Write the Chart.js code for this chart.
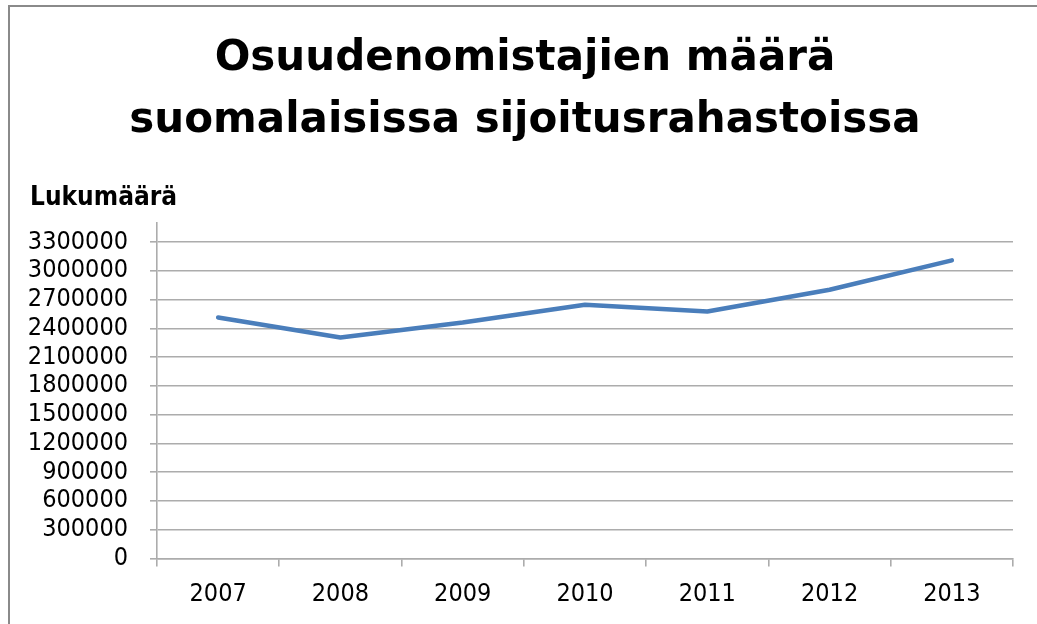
<!DOCTYPE html>
<html>
<head>
<meta charset="utf-8">
<script src="https://cdn.jsdelivr.net/npm/chart.js@4.4.1/dist/chart.umd.min.js"></script>
<style>
  html, body { margin: 0; padding: 0; background: #ffffff; overflow: hidden; width: 1037px; height: 624px; }
  #frame { position: absolute; left: 8px; top: 5px; width: 1040px; height: 640px;
           border-left: 2px solid #8a8a8a; border-top: 2px solid #8a8a8a; background: #fff; }
  #c { display: block; }
</style>
</head>
<body>
<div id="frame"><canvas id="c" width="1030" height="618"></canvas></div>
<script>
const titleLines = ['Osuudenomistajien määrä', 'suomalaisissa sijoitusrahastoissa'];
const axisTitle = 'Lukumäärä';
const years = ['2007', '2008', '2009', '2010', '2011', '2012', '2013'];
const holders = [2515000, 2306000, 2462000, 2647000, 2577000, 2804000, 3110000];
const yTicks = [0, 300000, 600000, 900000, 1200000, 1500000, 1800000, 2100000, 2400000, 2700000, 3000000, 3300000];
const yMin = 0;
const yMax = 3500000;

const gridGray = '#acacac';
const gridWidth = 1.6;
const fam = "'DejaVu Sans Condensed', 'DejaVu Sans', sans-serif";

// Draws the two-line chart title and the horizontal axis caption above the plot.
const headerPlugin = {
  id: 'headerText',
  afterDraw(chart) {
    const ctx = chart.ctx;
    ctx.save();
    ctx.fillStyle = '#000000';
    ctx.textBaseline = 'middle';
    ctx.textAlign = 'center';
    ctx.font = "bold 42px 'DejaVu Sans', sans-serif";
    titleLines.forEach((line, i) => ctx.fillText(line, 515, 52 + i * 62));
    ctx.textAlign = 'left';
    ctx.font = "bold 26px " + fam;
    ctx.fillText(axisTitle, 20, 191);
    ctx.restore();
  }
};

new Chart(document.getElementById('c'), {
  type: 'line',
  data: {
    labels: years,
    datasets: [{
      data: holders,
      borderColor: '#4a7ebb',
      borderWidth: 4.5,
      borderCapStyle: 'round',
      borderJoinStyle: 'round',
      pointRadius: 0,
      pointHoverRadius: 0,
      tension: 0,
      fill: false
    }]
  },
  plugins: [headerPlugin],
  options: {
    responsive: false,
    animation: false,
    devicePixelRatio: 1,
    layout: { padding: { left: 8, right: 27, top: 216, bottom: 0 } },
    plugins: {
      legend: { display: false },
      tooltip: { enabled: false },
      title: { display: false },
      subtitle: { display: false }
    },
    scales: {
      x: {
        type: 'category',
        offset: true,
        grid: {
          offset: true,
          drawOnChartArea: false,
          drawTicks: true,
          tickLength: 8,
          color: gridGray,
          lineWidth: gridWidth
        },
        border: { display: true, color: gridGray, width: gridWidth },
        ticks: { color: '#000000', font: { family: fam, size: 25, lineHeight: 1.2 }, padding: 12.5, maxRotation: 0, autoSkip: false },
        afterFit: (scale) => { scale.height = 66.5; }
      },
      y: {
        min: yMin,
        max: yMax,
        afterBuildTicks: (scale) => { scale.ticks = yTicks.map((v) => ({ value: v })); },
        grid: {
          color: gridGray,
          lineWidth: gridWidth,
          drawTicks: true,
          tickLength: 7
        },
        border: { display: true, color: gridGray, width: gridWidth },
        ticks: {
          autoSkip: false,
          color: '#000000',
          font: { family: fam, size: 25, lineHeight: 1.0 },
          padding: 22,
          callback: (v) => String(v)
        },
        afterFit: (scale) => { scale.width = 139; }
      }
    }
  }
});
</script>
</body>
</html>
